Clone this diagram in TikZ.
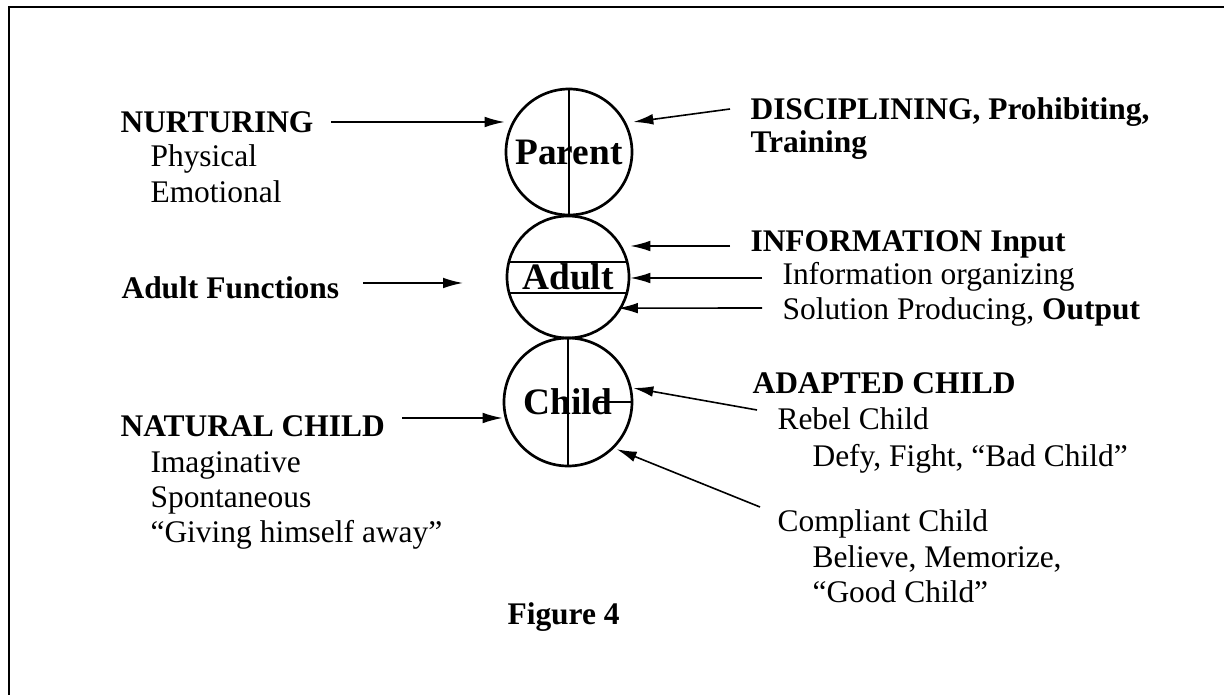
\documentclass[tikz,border=0pt]{standalone}
\usepackage{fontspec}
\setmainfont{Liberation Serif}
\usetikzlibrary{arrows.meta, positioning}

\begin{document}
\begin{tikzpicture}
		[x=0.375pt, y=-0.375pt,
		lbl/.style = {anchor=base west, inner sep=0pt, font=\fontsize{11.8pt}{14pt}\selectfont},
		ego/.style = {draw=black, circle, line width=1pt, inner sep=0pt, font=\fontsize{14pt}{16pt}\selectfont\bfseries},
		arr/.style = {-{Latex[length=7.5pt, width=4pt]}, line width=0.6pt},
		split/.style = {line width=0.7pt}]

		\useasboundingbox (0,0) rectangle (1224,695);
		\draw[line width=0.75pt] (9,695) -- (9,7) -- (1224,7);

		% ego states
		\node[ego, minimum size=47.25pt] (parent) at (569,152) {Parent};
		\node[ego, minimum size=45.75pt] (adult) at (568,277) {Adult};
		\node[ego, minimum size=48pt] (child) at (568,402) {Child};

		\draw[split] (parent.north) -- (parent.south);
		\draw[split] (adult.166) -- (adult.14);
		\draw[split] (adult.195) -- (adult.-15);
		\draw[split] (child.north) -- (child.south);
		\draw[split] ([xshift=9.4pt]child.center) -- (child.east);

		% labels
		\foreach \x/\y/\nm/\txt in {
			120/133/nurt/\textbf{NURTURING},
			150/167/phys/Physical,
			150/203/emot/Emotional,
			121/299/adf/\textbf{Adult Functions},
			120/437/nat/\textbf{NATURAL CHILD},
			150/473/imag/Imaginative,
			150/508/spon/Spontaneous,
			150/543/give/“Giving himself away”,
			750/120/disc/{\textbf{DISCIPLINING, Prohibiting,}},
			750/153/train/\textbf{Training},
			750/252/info/\textbf{INFORMATION Input},
			782/285/org/Information organizing,
			782/320/sol/{Solution Producing, \textbf{Output}},
			752/394/adap/\textbf{ADAPTED CHILD},
			777/430/reb/Rebel Child,
			812/467/defy/{Defy, Fight, “Bad Child”},
			777/532/comp/Compliant Child,
			812/568/bel/{Believe, Memorize,},
			812/603/good/“Good Child”,
			507/625/fig/\textbf{Figure 4}}{
			\node[lbl] (\nm) at (\x,\y) {\txt};
		}

		% arrow tails
		\coordinate (tNurt) at (331,122);
		\coordinate (tDisc) at (730,109);
		\coordinate (tAdf) at (363,283);
		\coordinate (tInfo) at (730,246);
		\coordinate (tOrg) at (762,278);
		\coordinate (tSol) at (762,308);
		\coordinate (tNat) at (402,418);
		\coordinate (tReb) at (757,410);
		\coordinate (tComp) at (760,507);

		\draw[arr] (tNurt) -- (tNurt -| parent.west);
		\draw[arr] (tDisc) -- ([yshift=11.25pt]parent.east);
		\draw[arr] (tAdf) -- ++(100,0);
		\draw[arr] (tInfo) -- (tInfo -| adult.east);
		\draw[arr] (tOrg) -- (tOrg -| adult.east);
		\draw[arr, shorten >=-1.5pt] (tSol) -- (adult.-30.5);
		\draw[arr] (tNat) -- (tNat -| child.west);
		\draw[arr] (tReb) -- ([yshift=5.25pt]child.east);
		\draw[arr, shorten >=1pt] (tComp) -- (child.-45);
	\end{tikzpicture}
\end{document}
